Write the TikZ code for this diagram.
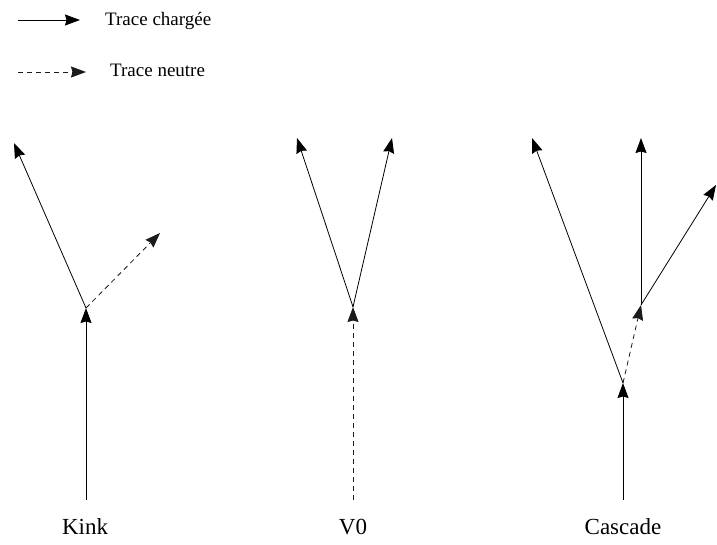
\documentclass[tikz,border=0pt]{standalone}
\usepackage{fontspec}
\setmainfont{Liberation Serif}
\usetikzlibrary{arrows.meta}
\definecolor{ink}{HTML}{000000}
\definecolor{inkdash}{HTML}{1A1A1A}

\tikzset{
  charged/.style={ink, line width=0.8pt, -{Stealth[length=15pt, width=11pt, inset=1.5pt]}},
  neutral/.style={charged, inkdash, dash pattern=on 5pt off 4pt},
  legendlabel/.style={font=\fontsize{19}{22}\selectfont, anchor=base west, inner sep=0pt},
  eventlabel/.style={font=\fontsize{23}{27}\selectfont, anchor=base, inner sep=0pt},
}

\begin{document}
\begin{tikzpicture}[x=1pt, y=-1pt]
  \useasboundingbox (0,0) rectangle (717,545);
  % legend
  \coordinate (chgA) at (18,20);
  \coordinate (chgB) at (80,20);
  \coordinate (neuA) at (18,72);
  \coordinate (neuB) at (86,72);
  \draw[charged] (chgA) -- (chgB);
  \draw[neutral] (neuA) -- (neuB);
  \node[legendlabel] (chglabel) at (105,26) {Trace chargée};
  \node[legendlabel] (neulabel) at (110,77) {Trace neutre};
  % kink
  \coordinate (kinkIn) at (86,500);
  \coordinate (kinkV) at (86,308);
  \coordinate (kinkCh) at (14,143);
  \coordinate (kinkNeu) at (160,233);
  \draw[charged] (kinkIn) -- (kinkV);
  \draw[charged] (kinkV) -- (kinkCh);
  \draw[neutral] (kinkV) -- (kinkNeu);
  \node[eventlabel] (kink) at (85,534) {Kink};
  % V0
  \coordinate (vzIn) at (353,500);
  \coordinate (vzV) at (353,307);
  \coordinate (vzL) at (297,138);
  \coordinate (vzR) at (392,138);
  \draw[neutral] (vzIn) -- (vzV);
  \draw[charged] (vzV) -- (vzL);
  \draw[charged] (vzV) -- (vzR);
  \node[eventlabel] (vzero) at (353,534) {V0};
  % cascade
  \coordinate (cascIn) at (623,500);
  \coordinate (cascV) at (623,383);
  \coordinate (cascCh) at (532,138);
  \coordinate (lamV) at (641,305);
  \coordinate (lamUp) at (641,138);
  \coordinate (lamR) at (716,185);
  \draw[charged] (cascIn) -- (cascV);
  \draw[charged] (cascV) -- (cascCh);
  \draw[neutral] (cascV) -- (lamV);
  \draw[charged] (lamV) -- (lamUp);
  \draw[charged] (lamV) -- (lamR);
  \node[eventlabel] (cascade) at (623,534) {Cascade};
\end{tikzpicture}
\end{document}
